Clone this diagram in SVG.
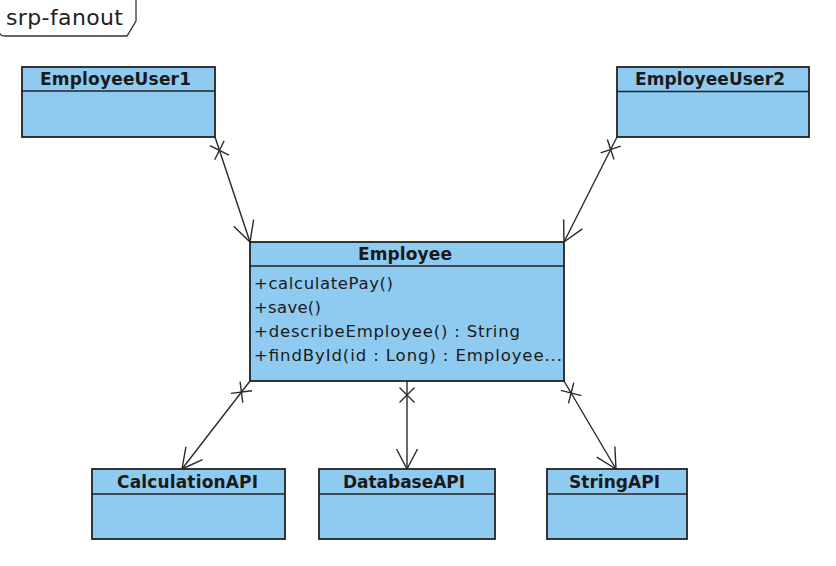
<svg xmlns="http://www.w3.org/2000/svg" width="836" height="566" viewBox="0 0 836 566">
<style>
  .box { fill: #8FCBF1; stroke: #222222; stroke-width: 1.8; }
  .div { stroke: #222222; stroke-width: 1.6; fill: none; }
  .name { font-family: "DejaVu Sans", sans-serif; font-weight: bold; font-size: 17px; fill: #1a1a1a; }
  .op { font-family: "DejaVu Sans", sans-serif; font-size: 16.5px; fill: #1a1a1a; }
  .title { font-family: "DejaVu Sans", sans-serif; font-size: 22px; fill: #222222; }
  .conn { stroke: #2a2a2a; stroke-width: 1.4; fill: none; marker-start: url(#xmark); marker-end: url(#arrow); }
</style>
<defs>
  <marker id="arrow" markerUnits="userSpaceOnUse" orient="auto" refX="0" refY="0" markerWidth="24" markerHeight="24" overflow="visible">
    <path d="M -20,-10.5 L 0,0 L -20,10.5" fill="none" stroke="#2a2a2a" stroke-width="1.4"/>
  </marker>
  <marker id="xmark" markerUnits="userSpaceOnUse" orient="auto" refX="0" refY="0" markerWidth="24" markerHeight="24" overflow="visible">
    <path d="M 6.5,-7.5 L 21.5,7.5 M 6.5,7.5 L 21.5,-7.5" fill="none" stroke="#2a2a2a" stroke-width="1.4"/>
  </marker>
</defs>
<rect width="836" height="566" fill="#ffffff"/>

<g id="frame">
  <path d="M -1,-1 V 30 Q -1,36 5,36 H 127 L 136,21 V -1" fill="#ffffff" stroke="#333333" stroke-width="1.3"/>
  <text class="title" x="6" y="25" textLength="117" lengthAdjust="spacing">srp-fanout</text>
</g>

<g id="connectors">
  <path class="conn" d="M 215,137 L 250,242"/>
  <path class="conn" d="M 617,137 L 564,242"/>
  <path class="conn" d="M 250,381 L 182,469"/>
  <path class="conn" d="M 407,381 L 407,469"/>
  <path class="conn" d="M 564,381 L 616,469"/>
</g>

<g id="EmployeeUser1">
  <rect class="box" x="22" y="67" width="193" height="70"/>
  <line class="div" x1="22" y1="91" x2="215" y2="91"/>
  <text class="name" x="40" y="84.5" textLength="151" lengthAdjust="spacing">EmployeeUser1</text>
</g>

<g id="EmployeeUser2">
  <rect class="box" x="617" y="67" width="192" height="70"/>
  <line class="div" x1="617" y1="91.5" x2="809" y2="91.5"/>
  <text class="name" x="635" y="84.5" textLength="150" lengthAdjust="spacing">EmployeeUser2</text>
</g>

<g id="Employee">
  <rect class="box" x="250" y="242" width="314" height="139"/>
  <line class="div" x1="250" y1="266" x2="564" y2="266"/>
  <text class="name" x="358" y="260" textLength="94" lengthAdjust="spacing">Employee</text>
  <text class="op" x="254" y="288.5" textLength="139" lengthAdjust="spacing">+calculatePay()</text>
  <text class="op" x="254" y="312.5" textLength="67" lengthAdjust="spacing">+save()</text>
  <text class="op" x="254" y="336.5" textLength="266" lengthAdjust="spacing">+describeEmployee() : String</text>
  <text class="op" x="254" y="360.5" textLength="308" lengthAdjust="spacing">+findById(id : Long) : Employee...</text>
</g>

<g id="CalculationAPI">
  <rect class="box" x="92" y="469" width="193" height="70"/>
  <line class="div" x1="92" y1="494" x2="285" y2="494"/>
  <text class="name" x="117" y="487.5" textLength="141" lengthAdjust="spacing">CalculationAPI</text>
</g>

<g id="DatabaseAPI">
  <rect class="box" x="319" y="469" width="176" height="70"/>
  <line class="div" x1="319" y1="494" x2="495" y2="494"/>
  <text class="name" x="343" y="487.5" textLength="122" lengthAdjust="spacing">DatabaseAPI</text>
</g>

<g id="StringAPI">
  <rect class="box" x="547" y="469" width="140" height="70"/>
  <line class="div" x1="547" y1="494" x2="687" y2="494"/>
  <text class="name" x="569" y="487.5" textLength="91" lengthAdjust="spacing">StringAPI</text>
</g>
</svg>
